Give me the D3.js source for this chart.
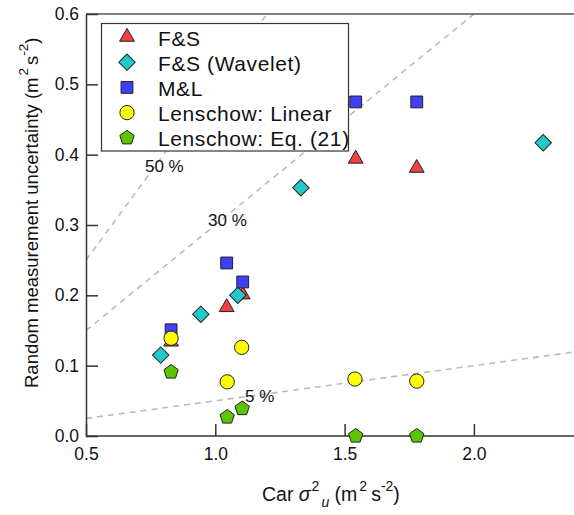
<!DOCTYPE html>
<html><head><meta charset="utf-8">
<script src="https://cdn.jsdelivr.net/npm/d3@7"></script>
<style>
body{margin:0;background:#fff}
svg{display:block}
text{font-family:Arial,"Liberation Sans",sans-serif;fill:#111}
</style>
</head><body>
<svg id="chart" width="574" height="515"></svg>
<script>
// ---------- data ----------
const seriesNames = ["F&S", "F&S (Wavelet)", "M&L", "Lenschow: Linear", "Lenschow: Eq. (21)"];
const fsX       = [0.829, 1.044, 1.106, 1.543, 1.779];
const fsY       = [0.134, 0.183, 0.201, 0.394, 0.381];
const waveletX  = [0.789, 0.944, 1.087, 1.331, 2.268];
const waveletY  = [0.115, 0.173, 0.200, 0.353, 0.417];
const mlX       = [0.829, 1.044, 1.106, 1.543, 1.779];
const mlY       = [0.151, 0.246, 0.219, 0.475, 0.475];
const linearX   = [0.829, 1.102, 1.046, 1.540, 1.779];
const linearY   = [0.139, 0.126, 0.077, 0.081, 0.078];
const eq21X     = [0.829, 1.046, 1.104, 1.543, 1.779];
const eq21Y     = [0.091, 0.027, 0.039, 0.000, 0.000];
const refFractions = [0.5, 0.3, 0.05];
const refLabels    = ["50 %", "30 %", "5 %"];
const xTickValues = [0.5, 1.0, 1.5, 2.0];
const yTickValues = [0.0, 0.1, 0.2, 0.3, 0.4, 0.5, 0.6];

// ---------- layout ----------
const svg = d3.select("#chart");
const plotLeft = 86, plotTop = 14, plotBottom = 436, plotRight = 574;
const x = d3.scaleLinear().domain([0.5, 2.4]).range([plotLeft, plotLeft + 1.9 * 258.6]);
const y = d3.scaleLinear().domain([0, 0.6]).range([plotBottom, plotTop]);

// pentagon symbol type
const symbolPentagon = {
  draw(ctx, size) {
    const r = Math.sqrt(size / 2.3776);
    for (let i = 0; i < 5; i++) {
      const a = -Math.PI / 2 + i * 2 * Math.PI / 5;
      const px = r * Math.cos(a), py = r * Math.sin(a);
      if (i === 0) ctx.moveTo(px, py); else ctx.lineTo(px, py);
    }
    ctx.closePath();
  }
};

const styles = [
  {type: d3.symbolTriangle, size: 95,  fill: "#f23f3f", rot: 0},
  {type: d3.symbolSquare,   size: 135, fill: "#22c9c9", rot: 45},
  {type: d3.symbolSquare,   size: 140, fill: "#3f3ff5", rot: 0},
  {type: d3.symbolCircle,   size: 160, fill: "#ffff00", rot: 0},
  {type: symbolPentagon,    size: 135, fill: "#5cc400", rot: 0}
];
const series = [
  [fsX, fsY], [waveletX, waveletY], [mlX, mlY], [linearX, linearY], [eq21X, eq21Y]
].map(([xs, ys], i) => ({name: seriesNames[i], style: styles[i], pts: xs.map((v, j) => ({x: v, y: ys[j]}))}));

// clip
svg.append("clipPath").attr("id", "plotclip")
  .append("rect").attr("x", plotLeft).attr("y", plotTop)
  .attr("width", plotRight - plotLeft).attr("height", plotBottom - plotTop);

// reference dashed lines
const refG = svg.append("g").attr("clip-path", "url(#plotclip)");
refFractions.forEach(f => {
  refG.append("line")
    .attr("x1", x(0.5)).attr("y1", y(0.5 * f))
    .attr("x2", x(2.4)).attr("y2", y(2.4 * f))
    .attr("stroke", "#bbbbbb").attr("stroke-width", 1.6)
    .attr("stroke-dasharray", "6,5");
});
const refLabelPos = [[0.728, 0.3755], [0.972, 0.299], [1.115, 0.048]];
refLabels.forEach((t, i) => {
  svg.append("text").attr("x", x(refLabelPos[i][0])).attr("y", y(refLabelPos[i][1]))
    .attr("font-size", 17).text(t);
});

// frame top line
svg.append("line").attr("x1", plotLeft).attr("x2", plotRight).attr("y1", plotTop).attr("y2", plotTop)
  .attr("stroke", "#555").attr("stroke-width", 1.5);

// axes
const xAxis = d3.axisBottom(x).tickValues(xTickValues).tickFormat(d3.format(".1f"))
  .tickSizeInner(-12).tickSizeOuter(0).tickPadding(12);
const gx = svg.append("g").attr("transform", `translate(0,${plotBottom})`).call(xAxis);
const yAxis = d3.axisLeft(y).tickValues(yTickValues).tickFormat(d3.format(".1f"))
  .tickSizeInner(-12).tickSizeOuter(0).tickPadding(7);
const gy = svg.append("g").attr("transform", `translate(${plotLeft},0)`).call(yAxis);
[gx, gy].forEach(g => {
  g.selectAll("path.domain").attr("stroke", "#333").attr("stroke-width", 1.5);
  g.selectAll(".tick line").attr("stroke", "#333").attr("stroke-width", 1.5);
  g.selectAll(".tick text").attr("font-size", 17.5).attr("fill", "#111")
    .attr("font-family", 'Arial,"Liberation Sans",sans-serif');
});
gx.select("path.domain").attr("d", `M${plotLeft},0H${plotRight}`);

// legend
const lg = svg.append("g");
lg.append("rect").attr("x", 101.5).attr("y", 23.5).attr("width", 247).attr("height", 127.5)
  .attr("fill", "#fff").attr("stroke", "#333").attr("stroke-width", 1.2);
series.forEach((s, i) => {
  const cy = 37 + i * 25.2;
  lg.append("path")
    .attr("d", d3.symbol().type(s.style.type).size(s.style.size)())
    .attr("transform", `translate(127,${cy}) rotate(${s.style.rot})`)
    .attr("fill", s.style.fill).attr("stroke", "#222").attr("stroke-width", 1);
  lg.append("text").attr("x", 158).attr("y", cy + 1).attr("dy", "0.36em")
    .attr("font-size", 21).attr("letter-spacing", 0.6).text(s.name);
});

// markers
series.forEach(s => {
  svg.append("g").selectAll("path").data(s.pts).join("path")
    .attr("d", d3.symbol().type(s.style.type).size(s.style.size))
    .attr("transform", d => `translate(${x(d.x)},${y(d.y)}) rotate(${s.style.rot})`)
    .attr("fill", s.style.fill).attr("stroke", "#222").attr("stroke-width", 1);
});

// axis titles
const xt = svg.append("text").attr("x", 262).attr("y", 501).attr("font-size", 19.5);
xt.append("tspan").text("Car ");
xt.append("tspan").attr("font-style", "italic").text("σ");
xt.append("tspan").attr("font-size", 14).attr("dy", -10).attr("dx", 1).text("2");
xt.append("tspan").attr("font-size", 14).attr("font-style", "italic").attr("dy", 16).attr("dx", 2).text("u");
xt.append("tspan").attr("dy", -6).text(" (m");
xt.append("tspan").attr("font-size", 14).attr("dy", -10).attr("dx", 2).text("2");
xt.append("tspan").attr("dy", 10).attr("dx", 4).text("s");
xt.append("tspan").attr("font-size", 14).attr("dy", -10).text("-2");
xt.append("tspan").attr("dy", 10).text(")");

const yt = svg.append("text").attr("transform", "translate(38,388) rotate(-90)").attr("font-size", 18.5);
yt.append("tspan").text("Random measurement uncertainty (m");
yt.append("tspan").attr("font-size", 13.5).attr("dy", -10).attr("dx", 2).text("2");
yt.append("tspan").attr("dy", 10).attr("dx", 3).text("s");
yt.append("tspan").attr("font-size", 13.5).attr("dy", -10).text("-2");
yt.append("tspan").attr("dy", 10).text(")");
</script>
</body></html>
